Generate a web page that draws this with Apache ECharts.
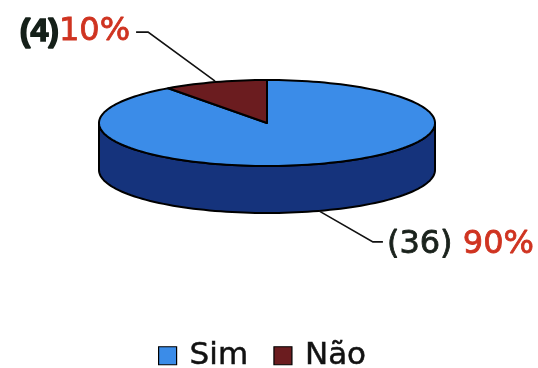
<!DOCTYPE html>
<html>
<head>
<meta charset="utf-8">
<script src="https://cdn.jsdelivr.net/npm/echarts@6/dist/echarts.min.js"></script>
<style>
  html, body { margin: 0; padding: 0; background: #ffffff; }
  #chart { width: 538px; height: 368px; }
</style>
</head>
<body>
<div id="chart"></div>
<script>
// Answers and how many people gave each one
const categories = ['Sim', 'Não'];
const counts = [36, 4];

const topColors = ['#3b8ce8', '#6b1c1f'];
const sideColors = ['#15337c', '#3e0e10'];

const total = counts.reduce((a, b) => a + b, 0);

// Tilted disc: centre, radii of the top ellipse and wall height
const CX = 267, CY = 123, RX = 168, RY = 43, DEPTH = 47;

// Angle runs clockwise from 12 o'clock
function pt(theta, dy) {
  return [CX + RX * Math.sin(theta), CY - RY * Math.cos(theta) + (dy || 0)];
}
function arc(a0, a1, dy) {
  const n = Math.max(2, Math.ceil((a1 - a0) / (Math.PI / 90)));
  const out = [];
  for (let i = 0; i <= n; i++) out.push(pt(a0 + (a1 - a0) * i / n, dy));
  return out;
}

function renderSlice(idx) {
  return function (params, api) {
    const v = api.value(0);
    let before = 0;
    for (let i = 0; i < idx; i++) before += counts[i];
    const a0 = before / total * 2 * Math.PI;
    const a1 = (before + v) / total * 2 * Math.PI;
    const children = [];

    // visible outer wall (front half of the disc)
    const f0 = Math.max(a0, Math.PI / 2), f1 = Math.min(a1, 1.5 * Math.PI);
    if (f1 > f0) {
      const top = arc(f0, f1, 0);
      const bot = arc(f0, f1, DEPTH).reverse();
      children.push({
        type: 'polygon', z2: 1,
        shape: { points: top.concat(bot) },
        style: { fill: sideColors[idx], stroke: '#000', lineWidth: 2, lineJoin: 'round' }
      });
    }

    // top face of the slice
    children.push({
      type: 'polygon', z2: 5,
      shape: { points: [[CX, CY]].concat(arc(a0, a1, 0)) },
      style: { fill: topColors[idx], stroke: '#000', lineWidth: 2, lineJoin: 'round' }
    });

    // label with leader line
    const mid = (a0 + a1) / 2;
    const front = Math.cos(mid) < 0;
    const left = Math.sin(mid) < 0;
    const anchor = front ? pt(mid, DEPTH) : pt(mid, -1);
    const elbow = left ? [anchor[0] - 67, anchor[1] - 49] : [anchor[0] + 54, anchor[1] + 31];
    const end = [elbow[0] + (left ? -12 : 10), elbow[1]];
    children.push({
      type: 'polyline', z2: 10,
      shape: { points: [anchor, elbow, end] },
      style: { stroke: '#111', lineWidth: 1.6, fill: null }
    });
    const pct = Math.round(v / total * 100);
    const text = left
      ? '{nb|(' + v + ')}{p|' + pct + '%}'
      : '{n|(' + v + ')} {p|' + pct + '%}';
    children.push({
      type: 'text', z2: 10,
      x: end[0] + (left ? -6 : 4),
      y: end[1] + (left ? 0 : 3),
      style: {
        text: text,
        align: left ? 'right' : 'left',
        verticalAlign: 'middle',
        fontFamily: 'DejaVu Sans',
        fontSize: 32,
        fill: '#1a221c',
        rich: {
          nb: { fontFamily: 'Liberation Sans', fontWeight: 'bold', fontSize: 32, fill: '#152019', stroke: '#152019', lineWidth: 1.6 },
          n: { fontFamily: 'DejaVu Sans', fontSize: 32, fill: '#1a221c', stroke: '#1a221c', lineWidth: 0.8 },
          p: { fontFamily: 'DejaVu Sans', fontSize: 32, fill: '#cf3320', stroke: '#cf3320', lineWidth: 0.8 }
        }
      }
    });

    return { type: 'group', children: children };
  };
}

const chart = echarts.init(document.getElementById('chart'), null, { renderer: 'canvas' });
chart.setOption({
  backgroundColor: '#ffffff',
  animation: false,
  legend: {
    data: categories,
    left: 158,
    top: 340,
    padding: 0,
    icon: 'rect',
    itemWidth: 18,
    itemHeight: 18,
    itemGap: 25,
    itemStyle: { borderColor: '#000', borderWidth: 1.2 },
    textStyle: {
      fontFamily: 'DejaVu Sans', fontSize: 31, color: '#111',
      textBorderColor: '#111', textBorderWidth: 0.5,
      padding: [0, 0, 0, 8]
    }
  },
  series: categories.map((name, i) => ({
    type: 'custom',
    name: name,
    coordinateSystem: 'none',
    silent: true,
    itemStyle: { color: topColors[i] },
    data: [[counts[i]]],
    renderItem: renderSlice(i)
  }))
});
</script>
</body>
</html>
